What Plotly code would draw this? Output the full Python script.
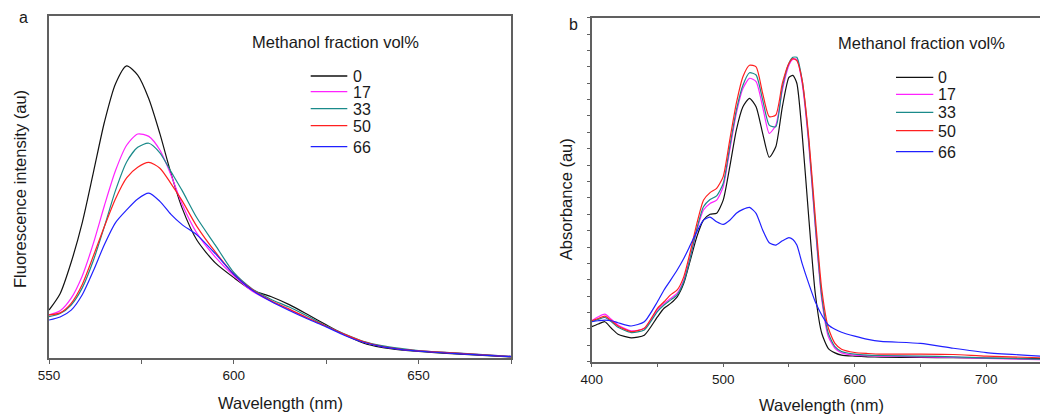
import plotly.graph_objects as go

# ---------------- Panel a: fluorescence ----------------
wl_a = [550, 553, 556, 559, 562, 565, 568, 571, 574, 577, 580, 583, 586, 590, 595,
        600, 605, 610, 615, 620, 625, 630, 635, 640, 645, 650, 660, 675]
fl_0 = [14.0, 18.8, 28.0, 39.6, 54.2, 69.0, 80.2, 85.4, 82.7, 75.8, 65.6, 54.0, 43.9, 34.5, 27.8,
        23.5, 19.8, 18.0, 15.6, 12.7, 9.7, 6.8, 4.4, 3.1, 2.4, 1.9, 1.2, 0.3]
fl_17 = [12.6, 13.8, 17.5, 24.0, 33.5, 44.6, 54.8, 62.2, 65.5, 64.8, 60.8, 53.5, 45.0, 36.5, 29.5,
         24.0, 19.5, 16.6, 14.1, 11.7, 9.3, 6.8, 4.7, 3.4, 2.6, 2.1, 1.4, 0.5]
fl_33 = [12.1, 13.0, 15.5, 20.5, 28.5, 38.5, 49.0, 57.3, 61.6, 62.8, 60.0, 54.5, 49.0, 41.0, 33.0,
         25.0, 20.2, 17.2, 14.9, 12.2, 9.4, 7.0, 4.9, 3.6, 2.8, 2.2, 1.5, 0.5]
fl_50 = [12.6, 13.2, 16.0, 21.5, 29.8, 38.5, 46.6, 52.7, 55.8, 57.2, 55.5, 51.0, 46.0, 38.5, 31.0,
         24.5, 20.0, 16.8, 14.3, 11.7, 9.3, 6.9, 4.8, 3.4, 2.6, 2.1, 1.4, 0.4]
fl_66 = [11.1, 12.0, 14.0, 18.5, 25.5, 33.2, 39.6, 43.3, 46.5, 48.2, 45.8, 42.0, 39.0, 36.0, 30.5,
         24.5, 19.8, 16.6, 13.9, 11.4, 9.1, 6.6, 4.6, 3.3, 2.5, 2.0, 1.3, 0.4]

# ---------------- Panel b: absorbance ----------------
wl_b = [400, 405, 410, 415, 420, 430, 440, 450, 455, 460, 465, 470, 475, 480, 485, 490, 495,
        500, 505, 510, 515, 520, 525, 530, 535, 540, 545, 550, 553, 556, 560, 565, 570, 575,
        580, 585, 590, 600, 610, 620, 650, 675, 700, 750]
ab_0 = [0.107, 0.115, 0.122, 0.102, 0.084, 0.073, 0.081, 0.137, 0.163, 0.178, 0.198, 0.239, 0.310,
        0.382, 0.432, 0.450, 0.453, 0.493, 0.595, 0.707, 0.778, 0.804, 0.778, 0.697, 0.624, 0.656,
        0.778, 0.868, 0.874, 0.850, 0.697, 0.443, 0.209, 0.086, 0.040, 0.027, 0.020, 0.017, 0.015,
        0.014, 0.013, 0.012, 0.011, 0.009]
ab_17 = [0.125, 0.137, 0.145, 0.129, 0.112, 0.094, 0.102, 0.158, 0.178, 0.193, 0.209, 0.249, 0.320,
         0.402, 0.463, 0.483, 0.493, 0.534, 0.646, 0.758, 0.834, 0.865, 0.855, 0.778, 0.697, 0.722,
         0.829, 0.905, 0.923, 0.923, 0.850, 0.666, 0.412, 0.188, 0.076, 0.041, 0.027, 0.020, 0.018,
         0.017, 0.015, 0.013, 0.010, 0.005]
ab_33 = [0.122, 0.129, 0.135, 0.122, 0.105, 0.089, 0.097, 0.153, 0.173, 0.188, 0.204, 0.244, 0.318,
         0.407, 0.473, 0.495, 0.506, 0.544, 0.656, 0.768, 0.844, 0.882, 0.875, 0.799, 0.722, 0.717,
         0.839, 0.911, 0.929, 0.929, 0.860, 0.677, 0.422, 0.198, 0.086, 0.046, 0.031, 0.023, 0.020,
         0.019, 0.017, 0.015, 0.011, 0.007]
ab_50 = [0.125, 0.132, 0.139, 0.125, 0.109, 0.092, 0.102, 0.163, 0.183, 0.204, 0.219, 0.259, 0.336,
         0.422, 0.493, 0.516, 0.529, 0.565, 0.677, 0.789, 0.870, 0.905, 0.900, 0.819, 0.748, 0.753,
         0.850, 0.911, 0.925, 0.919, 0.860, 0.687, 0.443, 0.219, 0.102, 0.056, 0.038, 0.028, 0.025,
         0.023, 0.023, 0.022, 0.017, 0.011]
ab_66 = [0.122, 0.125, 0.127, 0.125, 0.119, 0.109, 0.122, 0.183, 0.219, 0.249, 0.280, 0.315, 0.356,
         0.397, 0.432, 0.441, 0.427, 0.419, 0.432, 0.453, 0.465, 0.471, 0.453, 0.402, 0.363, 0.356,
         0.369, 0.379, 0.373, 0.356, 0.300, 0.239, 0.183, 0.142, 0.112, 0.099, 0.090, 0.078, 0.068,
         0.062, 0.056, 0.041, 0.028, 0.015]

series_names = ["0", "17", "33", "50", "66"]
colors = ["#111111", "#FF22FF", "#1A8A8A", "#FF2020", "#2020FF"]
fl_series = [fl_0, fl_17, fl_33, fl_50, fl_66]
ab_series = [ab_0, ab_17, ab_33, ab_50, ab_66]

# The page body has an 8px margin, so the figure starts at (8, 8) in the window.
OFF = 8
W, H = 1048 - OFF, 415 - OFF
FONT = "Liberation Sans, Arial, Helvetica, sans-serif"
TXT = "#1a1a1a"
AXC = "#606060"


def px(x):
    return (x - OFF) / W


def py(y):
    return 1 - (y - OFF) / H


fig = go.Figure()
for name, col, ys in zip(series_names, colors, fl_series):
    fig.add_trace(go.Scatter(x=wl_a, y=ys, mode="lines", name=name,
                             line=dict(color=col, width=1.2, shape="spline", smoothing=0.7),
                             xaxis="x", yaxis="y", showlegend=False))
for name, col, ys in zip(series_names, colors, ab_series):
    fig.add_trace(go.Scatter(x=wl_b, y=ys, mode="lines", name=name,
                             line=dict(color=col, width=1.2, shape="spline", smoothing=0.6),
                             xaxis="x2", yaxis="y2", showlegend=False))

common_x = dict(showline=True, linecolor=AXC, linewidth=1.5, mirror=True, ticks="outside",
                ticklen=4, tickwidth=1.2, tickcolor=AXC, showgrid=False, zeroline=False,
                ticklabelstandoff=0,
                tickfont=dict(family=FONT, size=13.5, color=TXT), automargin=False)

fig.update_layout(
    width=W, height=H, template="none",
    paper_bgcolor="white", plot_bgcolor="white",
    margin=dict(l=0, r=0, t=0, b=0),
    xaxis=dict(domain=[px(49), px(511)], range=[550, 675], dtick=50, tick0=550,
               minor=dict(dtick=25, tick0=550, ticks="outside", ticklen=4, tickwidth=1.2, tickcolor=AXC),
               anchor="y", **common_x),
    yaxis=dict(domain=[py(358), py(16)], range=[0, 100], showline=True, linecolor=AXC, linewidth=1.5,
               mirror=True, ticks="", showticklabels=False, showgrid=False, zeroline=False,
               anchor="x", automargin=False),
    xaxis2=dict(domain=[px(591.7), 1.0], range=[400, 747], dtick=100, tick0=400,
                minor=dict(dtick=50, tick0=400, ticks="outside", ticklen=4, tickwidth=1.2, tickcolor=AXC),
                anchor="y2", **common_x),
    yaxis2=dict(domain=[py(361.7), py(17.7)], range=[0, 1.05], dtick=0.05, tick0=0,
                showline=True, linecolor=AXC, linewidth=1.5, mirror=False, ticks="outside",
                ticklen=3, tickwidth=1, tickcolor=AXC, showticklabels=False, showgrid=False,
                zeroline=False, anchor="x2", automargin=False),
    showlegend=False,
)

ann = []


def text(x, y, s, size=16.5, angle=0, xanchor="center"):
    ann.append(dict(x=px(x), y=py(y), xref="paper", yref="paper", text=s, showarrow=False,
                    textangle=angle, xanchor=xanchor, yanchor="middle", borderpad=0,
                    font=dict(family=FONT, size=size, color=TXT)))


# axis titles
text(280, 403, "Wavelength (nm)")
text(821.7, 405, "Wavelength (nm)")
text(20, 189, "Fluorescence intensity (au)", angle=-90)
text(565.7, 199.5, "Absorbance (au)", angle=-90)
# panel letters
text(23, 18, "a", size=16)
text(573, 25, "b", size=16)

# manual legends
legend_title = "Methanol fraction vol%"
legends = [
    dict(tx=251, ty=42.3, x0=310.7, x1=347.3, tl=351.5, rows=[76, 91.7, 108.7, 125.7, 146.7]),
    dict(tx=836.5, ty=43.3, x0=896, x1=933.3, tl=937.3, rows=[77.3, 94.3, 112.3, 130.7, 151.7]),
]
shapes = []
for lg in legends:
    text(lg["tx"], lg["ty"], legend_title, xanchor="left")
    for name, col, ry in zip(series_names, colors, lg["rows"]):
        shapes.append(dict(type="line", xref="paper", yref="paper", x0=px(lg["x0"]), x1=px(lg["x1"]),
                           y0=py(ry), y1=py(ry), line=dict(color=col, width=1.3)))
        text(lg["tl"], ry + 0.5, name, size=16, xanchor="left")

fig.update_layout(annotations=ann, shapes=shapes)
fig.write_html("out.html")
